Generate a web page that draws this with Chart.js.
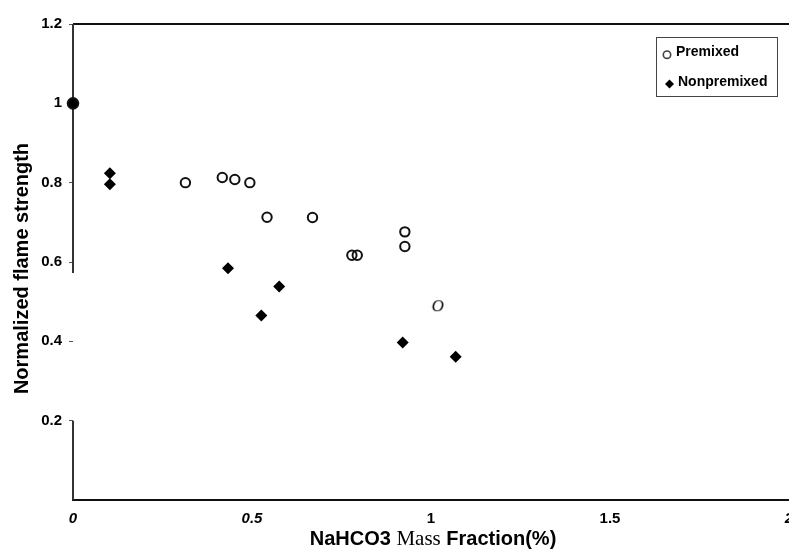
<!DOCTYPE html>
<html><head><meta charset="utf-8">
<script src="https://cdn.jsdelivr.net/npm/chart.js@4/dist/chart.umd.min.js"></script>
<style>html,body{margin:0;padding:0;overflow:hidden;background:#fff}#wrap{width:789px;height:550px;position:relative;overflow:hidden}#c{display:block}</style>
</head><body><div id="wrap"><canvas id="c" width="789" height="550"></canvas></div>
<script>
const seriesNames = ['Premixed', 'Nonpremixed'];
const premixedX = [0, 0.314, 0.417, 0.452, 0.494, 0.542, 0.669, 0.927, 0.927, 0.779, 0.794, 1.019];
const premixedY = [1.0, 0.800, 0.813, 0.808, 0.800, 0.713, 0.712, 0.676, 0.639, 0.617, 0.617, 0.486];
const nonpremixedX = [0.103, 0.103, 0.433, 0.576, 0.526, 0.921, 1.069];
const nonpremixedY = [0.824, 0.796, 0.584, 0.538, 0.465, 0.397, 0.361];
const xTicks = [0, 0.5, 1, 1.5, 2];
const xTickLabels = ['0', '0.5', '1', '1.5', '2'];
const yTicks = [0.2, 0.4, 0.6, 0.8, 1, 1.2];
const yTickLabels = ['0.2', '0.4', '0.6', '0.8', '1', '1.2'];
const xTitleParts = ['NaHCO3 ', 'Mass', ' Fraction(%)'];
const yTitle = 'Normalized flame strength';

const SANS = '"Liberation Sans", Arial, sans-serif';
const SERIF = '"Liberation Serif", "Times New Roman", serif';
const RIGHT_OVERHANG = -4;

// italic "O" marker used for one premixed point
const oMark = document.createElement('canvas');
oMark.width = 20; oMark.height = 20;
(function(){
  const g = oMark.getContext('2d');
  g.font = 'italic 17px ' + SERIF;
  g.fillStyle = '#000';
  g.textAlign = 'center';
  g.textBaseline = 'middle';
  g.fillText('O', 10, 10);
})();

const toPts = (xs, ys) => xs.map((x, i) => ({x: x, y: ys[i]}));

const decor = {
  id: 'decor',
  beforeDatasetsDraw(chart) {
    const ctx = chart.ctx, a = chart.chartArea, ys = chart.scales.y;
    ctx.save();
    ctx.strokeStyle = '#111';
    ctx.lineWidth = 2;
    ctx.beginPath();
    ctx.moveTo(a.left, a.top);
    ctx.lineTo(chart.width, a.top);
    ctx.stroke();
    ctx.strokeStyle = '#333';
    ctx.beginPath();
    ctx.moveTo(a.left, a.top);
    ctx.lineTo(a.left, ys.getPixelForValue(0.572));
    ctx.moveTo(a.left, ys.getPixelForValue(0.2));
    ctx.lineTo(a.left, a.bottom);
    ctx.stroke();
    ctx.restore();
  },
  afterDraw(chart) {
    const ctx = chart.ctx;
    ctx.save();
    ctx.fillStyle = '#000';
    // y title
    ctx.translate(28, 268.5);
    ctx.rotate(-Math.PI / 2);
    ctx.font = 'bold 20px ' + SANS;
    ctx.textAlign = 'center';
    ctx.textBaseline = 'alphabetic';
    ctx.fillText(yTitle, 0, 0);
    ctx.setTransform(1, 0, 0, 1, 0, 0);
    // x title (mixed fonts)
    const fonts = ['bold 20px ' + SANS, '21px ' + SERIF, 'bold 20px ' + SANS];
    let total = 0;
    const widths = xTitleParts.map((t, i) => { ctx.font = fonts[i]; const w = ctx.measureText(t).width; total += w; return w; });
    let x = 433 - total / 2;
    ctx.textAlign = 'left';
    ctx.textBaseline = 'alphabetic';
    xTitleParts.forEach((t, i) => { ctx.font = fonts[i]; ctx.fillText(t, x, 545); x += widths[i]; });
    // legend
    ctx.strokeStyle = '#444';
    ctx.lineWidth = 1;
    ctx.strokeRect(656.5, 37.5, 121, 59);
    ctx.font = 'bold 14px ' + SANS;
    ctx.textBaseline = 'middle';
    const ds = chart.data.datasets;
    const rowY = [52.5, 82.5];
    ds.forEach((d, i) => {
      ctx.beginPath();
      if (i === 0) {
        ctx.fillText(d.label, 676, rowY[i]);
        ctx.lineWidth = 1.6;
        ctx.arc(667, rowY[i] + 2.2, 3.7, 0, Math.PI * 2);
        ctx.stroke();
      } else {
        ctx.fillText(d.label, 678, rowY[i]);
        const cx = 669.5, cy = rowY[i] + 1.5, r = 4.5;
        ctx.moveTo(cx, cy - r); ctx.lineTo(cx + r, cy); ctx.lineTo(cx, cy + r); ctx.lineTo(cx - r, cy); ctx.closePath();
        ctx.fill();
      }
    });
    ctx.restore();
  }
};

new Chart(document.getElementById('c'), {
  type: 'scatter',
  data: {
    datasets: [
      {
        label: seriesNames[0],
        data: toPts(premixedX, premixedY),
        pointStyle: c => (c.dataIndex === premixedX.length - 1 ? oMark : 'circle'),
        pointRadius: c => (c.dataIndex === 0 ? 5.3 : 4.7),
        pointBorderWidth: 2,
        pointBorderColor: '#111',
        pointBackgroundColor: c => (c.dataIndex === 0 ? '#000' : 'rgba(0,0,0,0)'),
        clip: false
      },
      {
        label: seriesNames[1],
        data: toPts(nonpremixedX, nonpremixedY),
        pointStyle: 'rectRot',
        pointRadius: 6,
        pointBorderWidth: 0,
        pointBackgroundColor: '#000',
        clip: false
      }
    ]
  },
  options: {
    responsive: false,
    animation: false,
    devicePixelRatio: 1,
    layout: {autoPadding: false, padding: {top: 24, right: RIGHT_OVERHANG, left: 0, bottom: 0}},
    plugins: {legend: {display: false}, tooltip: {enabled: false}},
    scales: {
      x: {
        type: 'linear', min: 0, max: 2,
        afterBuildTicks: s => { s.ticks = xTicks.map(v => ({value: v})); },
        afterFit: s => { s.height = 50; s.paddingRight = RIGHT_OVERHANG; s.paddingLeft = 0; },
        grid: {display: false, drawTicks: false},
        border: {display: true, color: '#111', width: 2},
        ticks: {
          padding: 10, color: '#000', maxRotation: 0, autoSkip: false,
          callback: (v, i) => xTickLabels[i],
          font: c => ({family: SANS, size: 15, weight: 'bold', style: (c.tick && [0, 0.5, 2].includes(c.tick.value)) ? 'italic' : 'normal'})
        }
      },
      y: {
        type: 'linear', min: 0, max: 1.2,
        afterBuildTicks: s => { s.ticks = yTicks.map(v => ({value: v})); },
        afterFit: s => { s.width = 73; s.paddingRight = RIGHT_OVERHANG; },
        grid: {drawOnChartArea: false, drawTicks: true, tickLength: 4, color: '#555', lineWidth: 1},
        border: {display: false},
        ticks: {
          padding: 7, color: '#000', autoSkip: false,
          callback: (v, i) => yTickLabels[i],
          font: {family: SANS, size: 15, weight: 'bold'}
        }
      }
    }
  },
  plugins: [decor]
});
</script>
</body></html>
